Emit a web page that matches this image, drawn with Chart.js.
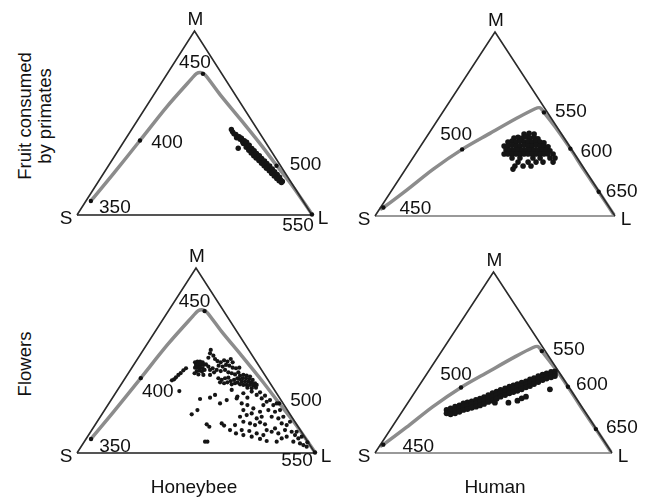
<!DOCTYPE html>
<html>
<head>
<meta charset="utf-8">
<script src="https://cdn.jsdelivr.net/npm/chart.js@4.4.0/dist/chart.umd.min.js"></script>
<style>
  html, body { margin: 0; padding: 0; background: #fff; }
  body { width: 648px; height: 497px; position: relative; overflow: hidden;
         font-family: "Liberation Sans", Arial, sans-serif; color: #111; }
  canvas { position: absolute; }
  .lab { position: absolute; font-size: 19px; line-height: 20px; white-space: nowrap;
         text-align: center; transform: translate(-50%, -50%); }
  .rot { font-size: 18.5px; transform: translate(-50%, -50%) rotate(-90deg); }
</style>
</head>
<body>
<canvas id="tl" width="280" height="240" style="left:60px;top:0px"></canvas>
<canvas id="tr" width="308" height="240" style="left:340px;top:0px"></canvas>
<canvas id="bl" width="280" height="257" style="left:60px;top:240px"></canvas>
<canvas id="br" width="308" height="257" style="left:340px;top:240px"></canvas>

<div class="lab rot" style="left:35px;top:116px">Fruit consumed<br>by primates</div>
<div class="lab rot" style="left:25px;top:364px">Flowers</div>
<div class="lab" style="left:194px;top:487px">Honeybee</div>
<div class="lab" style="left:495px;top:487px">Human</div>

<script>
// Maxwell triangle coordinates: x runs S (0) -> L (1), y runs base (0) -> M apex (1)
const triangle = [[0, 0], [0.5, 1], [1, 0]];
const triBase = [[0, 0], [1, 0]];
const vertexNames = ['S', 'L', 'M'];
const vertexAt = [[0, 0], [1, 0], [0.5, 1]];

// spectral loci
const honeybeeLocus = [[0.059,0.076],[0.156,0.226],[0.268,0.405],[0.382,0.588],[0.488,0.741],
  [0.509,0.769],[0.530,0.773],[0.547,0.759],[0.608,0.656],[0.693,0.524],[0.778,0.389],
  [0.850,0.268],[0.919,0.154],[1.0,0.004]];
const honeybeeMarks = [[0.059,0.076],[0.268,0.405],[0.536,0.767],[0.849,0.268],[1.0,0.003]];
const honeybeeNm = ['350', '400', '450', '500', '550'];

const humanLocus = [[0.021,0.036],[0.035,0.046],[0.132,0.141],[0.243,0.255],[0.363,0.362],
  [0.479,0.449],[0.590,0.531],[0.667,0.583],[0.688,0.588],[0.704,0.563],[0.760,0.468],
  [0.814,0.366],[0.870,0.252],[0.932,0.132],[0.996,0.005]];
const humanMarks = [[0.035,0.046],[0.363,0.362],[0.704,0.563],[0.814,0.366],[0.932,0.132]];
const humanNm = ['450', '500', '550', '600', '650'];

// fruit, honeybee
const fruitBee = [[0.657,0.465],[0.662,0.452],[0.668,0.441],[0.676,0.438],[0.684,0.426],[0.679,0.420],
  [0.690,0.425],[0.694,0.412],[0.700,0.417],[0.705,0.398],[0.712,0.404],[0.708,0.388],[0.718,0.386],
  [0.722,0.395],[0.726,0.372],[0.720,0.368],[0.733,0.380],[0.738,0.358],[0.731,0.352],[0.744,0.362],
  [0.748,0.344],[0.741,0.337],[0.754,0.350],[0.758,0.330],[0.752,0.322],[0.764,0.335],[0.770,0.316],
  [0.762,0.310],[0.776,0.322],[0.781,0.302],[0.774,0.296],[0.786,0.308],[0.792,0.288],[0.785,0.281],
  [0.798,0.294],[0.803,0.274],[0.796,0.268],[0.808,0.280],[0.814,0.260],[0.806,0.254],[0.820,0.266],
  [0.825,0.246],[0.818,0.240],[0.831,0.250],[0.835,0.232],[0.828,0.226],[0.841,0.236],[0.846,0.218],
  [0.839,0.212],[0.852,0.221],[0.857,0.204],[0.850,0.198],[0.862,0.206],[0.867,0.190],[0.860,0.186],
  [0.874,0.182],[0.870,0.176],[0.686,0.363]];

// fruit, human
const fruitHuman = [[0.621,0.446],[0.642,0.450],[0.663,0.446],
  [0.579,0.424],[0.596,0.428],[0.613,0.424],[0.629,0.430],[0.646,0.424],[0.663,0.428],[0.679,0.420],
  [0.554,0.402],[0.571,0.408],[0.588,0.402],[0.604,0.406],[0.621,0.402],[0.638,0.404],[0.654,0.402],
  [0.671,0.406],[0.688,0.402],[0.704,0.398],
  [0.538,0.380],[0.554,0.380],[0.571,0.384],[0.588,0.380],[0.604,0.380],[0.621,0.384],[0.638,0.380],
  [0.654,0.380],[0.671,0.384],[0.688,0.380],[0.704,0.380],[0.721,0.376],
  [0.546,0.359],[0.563,0.359],[0.579,0.359],[0.596,0.359],[0.613,0.359],[0.629,0.359],[0.646,0.359],
  [0.663,0.359],[0.679,0.359],[0.696,0.359],[0.713,0.359],[0.729,0.355],
  [0.538,0.337],[0.554,0.337],[0.571,0.337],[0.588,0.337],[0.604,0.337],[0.621,0.337],[0.638,0.337],
  [0.654,0.337],[0.671,0.337],[0.688,0.337],[0.704,0.337],[0.721,0.337],[0.742,0.337],
  [0.571,0.315],[0.604,0.315],[0.658,0.315],[0.688,0.315],[0.729,0.315],[0.750,0.315],
  [0.596,0.293],[0.638,0.293],[0.671,0.293],[0.700,0.293],[0.742,0.293],
  [0.583,0.272],[0.617,0.272],[0.650,0.272],[0.575,0.255]];

// flowers, honeybee
const flowerBee = [[0.562,0.557],[0.559,0.539],[0.573,0.526],[0.552,0.515],[0.580,0.508],
  [0.496,0.490],[0.506,0.494],[0.517,0.494],[0.528,0.490],[0.500,0.476],[0.510,0.479],[0.520,0.476],
  [0.531,0.476],[0.542,0.479],[0.496,0.461],[0.506,0.463],[0.517,0.461],[0.528,0.458],[0.503,0.443],
  [0.514,0.447],[0.525,0.440],[0.536,0.449],[0.494,0.431],[0.510,0.425],[0.531,0.422],[0.552,0.467],
  [0.559,0.449],[0.570,0.458],[0.559,0.422],[0.576,0.436],
  [0.590,0.497],[0.604,0.490],[0.618,0.501],[0.632,0.494],[0.646,0.508],[0.654,0.490],[0.595,0.472],
  [0.612,0.467],[0.626,0.476],[0.640,0.472],[0.654,0.461],[0.668,0.458],[0.682,0.461],[0.587,0.449],
  [0.604,0.443],[0.622,0.449],[0.636,0.436],[0.650,0.431],[0.664,0.425],[0.678,0.436],
  [0.458,0.458],[0.447,0.447],[0.436,0.432],[0.426,0.422],[0.416,0.409],[0.408,0.398],[0.399,0.393],
  [0.430,0.335],
  [0.594,0.404],[0.608,0.395],[0.622,0.404],[0.636,0.407],[0.646,0.389],[0.660,0.395],[0.674,0.404],
  [0.601,0.382],[0.618,0.377],[0.632,0.382],[0.650,0.371],[0.664,0.377],
  [0.685,0.418],[0.699,0.422],[0.713,0.418],[0.727,0.413],[0.682,0.400],[0.696,0.404],[0.710,0.404],
  [0.724,0.400],[0.738,0.395],[0.692,0.386],[0.706,0.386],[0.720,0.386],[0.734,0.382],[0.748,0.377],
  [0.699,0.368],[0.713,0.368],[0.727,0.368],[0.741,0.364],[0.755,0.368],[0.716,0.353],[0.734,0.350],
  [0.752,0.353],[0.685,0.371],[0.674,0.382],
  [0.650,0.341],[0.674,0.305],[0.699,0.323],[0.716,0.299],[0.734,0.332],[0.755,0.314],[0.769,0.328],
  [0.776,0.295],[0.790,0.310],[0.797,0.277],[0.811,0.286],[0.783,0.259],[0.825,0.259],[0.839,0.268],
  [0.804,0.232],[0.832,0.223],[0.853,0.232],[0.818,0.196],[0.846,0.187],[0.867,0.196],[0.860,0.160],
  [0.881,0.151],[0.895,0.169],[0.874,0.124],[0.902,0.115],[0.916,0.097],[0.881,0.088],[0.930,0.079],
  [0.909,0.061],[0.937,0.052],[0.923,0.115],[0.951,0.043],[0.965,0.034],[0.944,0.088],[0.968,0.058],
  [0.517,0.292],[0.559,0.299],[0.580,0.314],[0.601,0.268],[0.629,0.286],[0.671,0.295],[0.692,0.268],
  [0.716,0.259],[0.741,0.241],[0.769,0.223],[0.699,0.232],[0.713,0.205],[0.734,0.214],[0.755,0.187],
  [0.776,0.196],[0.685,0.196],[0.699,0.169],[0.727,0.160],[0.748,0.151],[0.769,0.166],[0.790,0.155],
  [0.797,0.124],[0.818,0.115],[0.832,0.133],[0.846,0.106],[0.860,0.079],[0.839,0.061],
  [0.482,0.209],[0.506,0.232],[0.545,0.155],[0.556,0.142],[0.608,0.160],[0.618,0.148],[0.643,0.124],
  [0.664,0.151],[0.668,0.106],[0.692,0.124],[0.699,0.097],[0.724,0.119],[0.734,0.088],[0.755,0.106],
  [0.769,0.076],[0.783,0.097],[0.797,0.065],[0.538,0.061],[0.548,0.061]];

// flowers, human
const flowerHuman = [[0.302,0.238],[0.302,0.219],
  [0.319,0.247],[0.319,0.228],[0.319,0.214],[0.338,0.256],[0.338,0.238],[0.338,0.219],
  [0.356,0.263],[0.356,0.245],[0.356,0.228],[0.373,0.274],[0.373,0.256],[0.373,0.238],
  [0.390,0.280],[0.390,0.262],[0.390,0.243],[0.408,0.285],[0.408,0.269],[0.408,0.250],
  [0.426,0.293],[0.426,0.274],[0.426,0.256],[0.443,0.300],[0.443,0.282],[0.443,0.263],
  [0.460,0.308],[0.460,0.289],[0.460,0.271],[0.478,0.319],[0.478,0.300],[0.478,0.282],
  [0.496,0.330],[0.496,0.311],[0.496,0.289],[0.513,0.339],[0.513,0.320],[0.513,0.300],
  [0.530,0.348],[0.530,0.330],[0.530,0.311],[0.549,0.357],[0.549,0.339],[0.549,0.320],
  [0.567,0.366],[0.567,0.348],[0.567,0.330],[0.584,0.374],[0.584,0.355],[0.584,0.337],
  [0.601,0.381],[0.601,0.363],[0.601,0.344],[0.619,0.389],[0.619,0.370],[0.619,0.352],
  [0.637,0.396],[0.637,0.379],[0.637,0.363],[0.654,0.407],[0.654,0.389],[0.654,0.370],
  [0.671,0.414],[0.671,0.398],[0.671,0.381],[0.689,0.425],[0.689,0.407],[0.689,0.392],
  [0.707,0.433],[0.707,0.418],[0.707,0.403],[0.724,0.440],[0.724,0.425],[0.724,0.411],
  [0.743,0.448],[0.743,0.433],[0.743,0.418],[0.759,0.451],[0.759,0.436],[0.759,0.425],
  [0.506,0.278],[0.563,0.278],[0.601,0.289],[0.619,0.302],[0.637,0.311],[0.738,0.352]];

function xy(list) {
  return list.map(p => ({ x: p[0], y: p[1] }));
}

function labelPlugin(items) {
  return {
    id: 'triLabels',
    afterDatasetsDraw(chart) {
      const ctx = chart.ctx;
      const sx = chart.scales.x, sy = chart.scales.y;
      ctx.save();
      ctx.font = '19px "Liberation Sans", Arial, sans-serif';
      ctx.fillStyle = '#111';
      ctx.textAlign = 'center';
      ctx.textBaseline = 'alphabetic';
      items.forEach(it => {
        ctx.fillText(it.text, sx.getPixelForValue(it.at[0]) + it.dx, sy.getPixelForValue(it.at[1]) + it.dy);
      });
      ctx.restore();
    }
  };
}

const vertexOffsets = [[-11, 9], [11, 9], [1, -6.5]];

function makePanel(id, pad, locus, marks, nm, nmOffsets, cloud, dotR, baseColor) {
  const items = [];
  vertexNames.forEach((v, i) => items.push({ text: v, at: vertexAt[i], dx: vertexOffsets[i][0], dy: vertexOffsets[i][1] }));
  nm.forEach((t, i) => items.push({ text: t, at: marks[i], dx: nmOffsets[i][0], dy: nmOffsets[i][1] }));

  new Chart(document.getElementById(id), {
    type: 'scatter',
    data: {
      datasets: [
        { data: xy(cloud), pointRadius: dotR, backgroundColor: '#151515', borderWidth: 0, clip: false, order: 1 },
        { data: xy(marks), pointRadius: 2.2, backgroundColor: '#111', borderWidth: 0, clip: false, order: 2 },
        { data: xy(triangle), showLine: true, borderColor: '#2a2a2a', borderWidth: 1.6, pointRadius: 0, clip: false, order: 3 },
        { data: xy(triBase), showLine: true, borderColor: baseColor, borderWidth: 2, pointRadius: 0, clip: false, order: 4 },
        { data: xy(locus), showLine: true, borderColor: '#8c8c8c', borderWidth: 3.5, pointRadius: 0,
          tension: 0.3, clip: false, order: 5 }
      ]
    },
    options: {
      responsive: false,
      animation: false,
      events: [],
      layout: { padding: pad },
      plugins: { legend: { display: false }, tooltip: { enabled: false } },
      scales: {
        x: { type: 'linear', min: 0, max: 1, display: false },
        y: { type: 'linear', min: 0, max: 1, display: false }
      }
    },
    plugins: [labelPlugin(items)]
  });
}

makePanel('tl', { left: 17, right: 28, top: 31, bottom: 25 }, honeybeeLocus, honeybeeMarks, honeybeeNm,
  [[24, 12], [27, 8], [-8, -6], [29, 4], [-14, 17]], fruitBee, 2.7, '#555');
makePanel('tr', { left: 35, right: 33, top: 32, bottom: 24 }, humanLocus, humanMarks, humanNm,
  [[32, 6], [-6, -9], [27, 5], [26, 8], [23, 5]], fruitHuman, 2.8, '#999');
makePanel('bl', { left: 17, right: 25, top: 28, bottom: 44 }, honeybeeLocus, honeybeeMarks, honeybeeNm,
  [[24, 13], [17, 19], [-10, -4], [27, 3], [-18, 14]], flowerBee, 2.1, '#555');
makePanel('br', { left: 35, right: 36, top: 32, bottom: 44 }, humanLocus, humanMarks, humanNm,
  [[35, 7], [-5, -7], [27, 4], [24, 3], [26, 4]], flowerHuman, 2.9, '#999');
</script>
</body>
</html>
